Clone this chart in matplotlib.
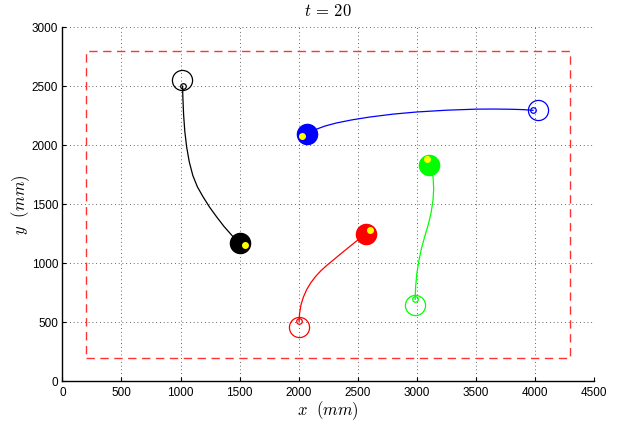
import matplotlib
matplotlib.use("Agg")
import matplotlib.pyplot as plt

plt.rcParams['font.family'] = ['Liberation Sans', 'DejaVu Sans']
plt.rcParams['mathtext.fontset'] = 'cm'

# robot colours
colors = ['k', '#0000ff', '#ff0000', '#00ff00']

# trajectories (mm)
black_x = [1017, 1020, 1026, 1036, 1052, 1074, 1104, 1142, 1190, 1245, 1305, 1368, 1435, 1500]
black_y = [2503, 2400, 2260, 2120, 1985, 1860, 1745, 1650, 1565, 1478, 1395, 1313, 1237, 1172]
blue_x = [3984, 3900, 3800, 3650, 3500, 3250, 3000, 2800, 2600, 2450, 2320, 2220, 2150, 2070]
blue_y = [2297, 2303, 2306, 2308, 2307, 2298, 2283, 2265, 2240, 2216, 2190, 2163, 2137, 2100]
red_x = [2003, 2008, 2020, 2040, 2068, 2102, 2142, 2188, 2240, 2295, 2352, 2410, 2478, 2568]
red_y = [510, 580, 650, 715, 778, 835, 888, 938, 985, 1030, 1078, 1125, 1180, 1252]
green_x = [2986, 2990, 3000, 3018, 3042, 3070, 3099, 3122, 3137, 3143, 3138, 3104]
green_y = [695, 800, 912, 1025, 1138, 1237, 1336, 1435, 1534, 1630, 1731, 1836]

# start body centres (open circles)
start_x = [1015, 4026, 2003, 2986]
start_y = [2550, 2297, 460, 650]

# heading markers on final bodies
head_x = [1546, 2030, 2604, 3085]
head_y = [1153, 2079, 1280, 1881]

# arena boundary
arena_x = [200, 4300, 4300, 200, 200]
arena_y = [200, 200, 2800, 2800, 200]

fig = plt.figure(figsize=(6.21, 4.21), dpi=100)
ax = fig.add_axes([0.1005, 0.094, 0.856, 0.841])

ax.plot(arena_x, arena_y, color='#ff3333', lw=1, dashes=(6, 4))

paths = [(black_x, black_y), (blue_x, blue_y), (red_x, red_y), (green_x, green_y)]
for i, (px, py) in enumerate(paths):
    c = colors[i]
    ax.plot(px, py, color=c, lw=0.9)
    ax.plot(px[0], py[0], 'o', mfc='none', mec=c, ms=4, mew=0.9)
    ax.plot(start_x[i], start_y[i], 'o', mfc='none', mec=c, ms=14.5, mew=0.9)
    ax.plot(px[-1], py[-1], 'o', mfc=c, mec=c, ms=14.5)
    ax.plot(head_x[i], head_y[i], 'o', mfc='#ffff00', mec='#ffff00', ms=4)

ax.set_xlim(0, 4500)
ax.set_ylim(0, 3000)
ax.set_xticks(range(0, 4501, 500))
ax.set_yticks(range(0, 3001, 500))
ax.grid(True, color='#333333', linestyle=(0, (1, 3.5)), lw=0.6)
ax.set_axisbelow(True)

for s in ['top', 'right']:
    ax.spines[s].set_visible(False)
for s in ['left', 'bottom']:
    ax.spines[s].set_linewidth(1)
ax.tick_params(direction='in', length=3, labelsize=8.5)
ax.tick_params(axis='x', pad=4)
ax.tick_params(axis='y', pad=3)

ax.set_title(r'$t\,=\,20$', fontsize=12, pad=8)
ax.set_xlabel(r'$x\ \ (mm)$', fontsize=12, labelpad=0)
ax.set_ylabel(r'$y\ \ (mm)$', fontsize=12, labelpad=0)

fig.savefig('out.png', dpi=100)
